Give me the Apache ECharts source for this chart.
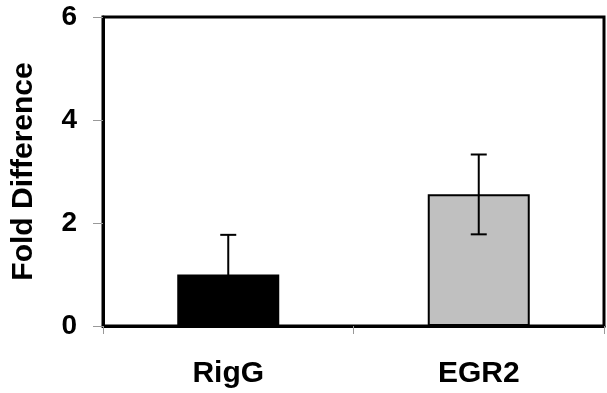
<!DOCTYPE html>
<html>
<head>
<meta charset="utf-8">
<script src="https://cdn.jsdelivr.net/npm/echarts@6/dist/echarts.min.js"></script>
<style>
  html, body { margin: 0; padding: 0; background: #fff; }
  #chart { width: 607px; height: 393px; }
</style>
</head>
<body>
<div id="chart"></div>
<script>
// data
var genes = ['RigG', 'EGR2'];
var foldValues = [1.0, 2.56];
var errLow = [0.23, 1.78];
var errHigh = [1.77, 3.33];
var barColors = ['#000000', '#c0c0c0'];
var yTicks = [0, 2, 4, 6];

var myChart = echarts.init(document.getElementById('chart'));

var errData = [];
for (var i = 0; i < genes.length; i++) {
    errData.push([i, errLow[i], errHigh[i]]);
}

function renderErr(params, api) {
    var x = api.value(0);
    var lo = api.coord([x, api.value(1)]);
    var hi = api.coord([x, api.value(2)]);
    var half = 8;
    var st = { stroke: '#000', lineWidth: 2 };
    return {
        type: 'group',
        children: [
            { type: 'line', shape: { x1: hi[0], y1: hi[1], x2: lo[0], y2: lo[1] }, style: st },
            { type: 'line', shape: { x1: hi[0] - half, y1: hi[1], x2: hi[0] + half, y2: hi[1] }, style: st },
            { type: 'line', shape: { x1: lo[0] - half, y1: lo[1], x2: lo[0] + half, y2: lo[1] }, style: st }
        ]
    };
}

var option = {
    animation: false,
    backgroundColor: '#fff',
    grid: {
        left: 103,
        right: 3,
        top: 17,
        bottom: 67,
        show: true,
        borderColor: '#000',
        borderWidth: 3
    },
    xAxis: {
        type: 'category',
        data: genes,
        axisLine: { lineStyle: { color: '#000', width: 3 } },
        axisTick: { show: true, length: 8, lineStyle: { color: '#999', width: 1 } },
        axisLabel: {
            margin: 33,
            color: '#000',
            fontFamily: 'Liberation Sans',
            fontWeight: 'bold',
            fontSize: 30
        }
    },
    yAxis: {
        type: 'value',
        min: yTicks[0],
        max: yTicks[yTicks.length - 1],
        interval: 2,
        name: 'Fold Difference',
        nameLocation: 'middle',
        nameGap: 64,
        nameTextStyle: {
            color: '#000',
            fontFamily: 'Liberation Sans',
            fontWeight: 'bold',
            fontSize: 30
        },
        splitLine: { show: false },
        axisLine: { show: true, lineStyle: { color: '#000', width: 3 } },
        axisTick: { show: true, length: 10, lineStyle: { color: '#999', width: 1 } },
        axisLabel: {
            margin: 26,
            color: '#000',
            fontFamily: 'Liberation Sans',
            fontWeight: 'bold',
            fontSize: 28
        }
    },
    series: [{
        type: 'bar',
        barWidth: 102,
        data: foldValues.map(function (v, i) {
            return {
                value: v,
                itemStyle: { color: barColors[i], borderColor: '#000', borderWidth: 2 }
            };
        })
    }, {
        type: 'custom',
        renderItem: renderErr,
        data: errData,
        z: 5
    }]
};

myChart.setOption(option);
</script>
</body>
</html>
